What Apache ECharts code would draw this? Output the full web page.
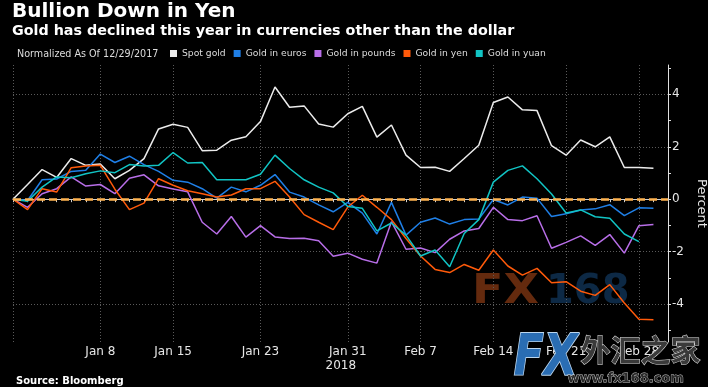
<!DOCTYPE html>
<html>
<head>
<meta charset="utf-8">
<script src="https://cdn.jsdelivr.net/npm/echarts@6/dist/echarts.min.js"></script>
<style>
html,body{margin:0;padding:0;background:#000;}
#chart{width:708px;height:387px;}
</style>
</head>
<body>
<div id="chart"></div>
<script>
// Trading days (weekdays), Dec 29 2017 .. Mar 2 2018
const categories = ["Dec 29","Jan 1","Jan 2","Jan 3","Jan 4","Jan 5","Jan 8","Jan 9","Jan 10","Jan 11","Jan 12",
  "Jan 15","Jan 16","Jan 17","Jan 18","Jan 19","Jan 22","Jan 23","Jan 24","Jan 25","Jan 26",
  "Jan 29","Jan 30","Jan 31","Feb 1","Feb 2","Feb 5","Feb 6","Feb 7","Feb 8","Feb 9",
  "Feb 12","Feb 13","Feb 14","Feb 15","Feb 16","Feb 19","Feb 20","Feb 21","Feb 22","Feb 23",
  "Feb 26","Feb 27","Feb 28","Mar 1","Mar 2"];
const tickLabels = ["Jan 8","Jan 15","Jan 23","Jan 31","Feb 7","Feb 14","Feb 21","Feb 28"];
const yearLabel = "2018";
const yTickValues = [-5,-4,-3,-2,-1,0,1,2,3,4,5];
const yLabelValues = [-4,-2,0,2,4];
const gridValues = [4,2,-2,-4];

const spotGold = [0,0.56,1.13,0.83,1.55,1.29,1.34,0.78,1.1,1.55,2.68,2.86,2.74,1.85,1.87,2.25,2.38,2.96,4.28,3.51,3.56,2.87,2.75,3.26,3.54,2.37,2.83,1.68,1.21,1.22,1.06,1.55,2.06,3.69,3.9,3.41,3.38,2.04,1.68,2.26,2.0,2.38,1.21,1.21,1.18];
const goldEuros = [0,-0.05,0.74,0.77,1.06,1.1,1.72,1.4,1.64,1.32,1.06,0.72,0.65,0.4,0.04,0.46,0.28,0.53,0.94,0.27,0.08,-0.22,-0.48,-0.12,-0.53,-1.33,-0.12,-1.37,-0.88,-0.72,-0.95,-0.78,-0.76,-0.01,-0.22,0.08,0.04,-0.66,-0.56,-0.41,-0.37,-0.21,-0.63,-0.33,-0.35];
const goldPounds = [0,-0.31,0.21,0.4,0.85,0.5,0.56,0.21,0.8,0.93,0.51,0.39,0.28,-0.88,-1.33,-0.66,-1.45,-1.01,-1.44,-1.5,-1.49,-1.59,-2.18,-2.06,-2.29,-2.44,-0.86,-1.91,-1.86,-2.04,-1.53,-1.21,-1.12,-0.31,-0.78,-0.82,-0.63,-1.87,-1.65,-1.4,-1.76,-1.35,-2.06,-1.01,-0.97];
const goldYen = [0,-0.4,0.4,0.27,1.2,1.27,1.29,0.38,-0.4,-0.15,0.78,0.53,0.32,0.21,0.08,0.16,0.4,0.4,0.68,0.08,-0.59,-0.88,-1.16,-0.3,0.15,-0.31,-0.78,-1.5,-2.17,-2.68,-2.8,-2.49,-2.71,-1.94,-2.55,-2.9,-2.64,-3.19,-3.15,-3.51,-3.67,-3.26,-3.96,-4.58,-4.6];
const goldYuan = [0,-0.08,0.46,0.85,0.82,0.97,1.08,1.01,1.32,1.27,1.29,1.78,1.38,1.4,0.74,0.74,0.74,0.95,1.68,1.17,0.74,0.46,0.24,-0.28,-0.35,-1.21,-0.91,-1.37,-2.17,-1.94,-2.58,-1.31,-0.78,0.65,1.1,1.27,0.78,0.2,-0.53,-0.41,-0.67,-0.73,-1.33,-1.62,null];

const seriesNames = ["Spot gold","Gold in euros","Gold in pounds","Gold in yen","Gold in yuan"];
const seriesColors = ["#ececec","#1f7fe6","#b86ee8","#ff5a0a","#11c4c4"];
const seriesData = [spotGold, goldEuros, goldPounds, goldYen, goldYuan];

const FONT = '"DejaVu Sans", "Liberation Sans", sans-serif';
const chart = echarts.init(document.getElementById('chart'), null, {renderer: 'canvas'});

const lineSeries = seriesNames.map((n, k) => ({
  name: n, type: 'line', data: seriesData[k], symbol: 'none', showSymbol: false,
  connectNulls: false, z: 3,
  lineStyle: {color: seriesColors[k], width: 1.5},
  itemStyle: {color: seriesColors[k]}
}));

const option = {
  backgroundColor: '#000',
  animation: false,
  textStyle: {fontFamily: FONT},
  title: [
    {text: 'Bullion Down in Yen', left: 12, top: 2, padding: 0,
     textStyle: {color: '#fff', fontSize: 20, fontWeight: 'bold', fontFamily: FONT}},
    {text: 'Gold has declined this year in currencies other than the dollar', left: 12, top: 24, padding: 0,
     textStyle: {color: '#fff', fontSize: 14.3, fontWeight: 'bold', fontFamily: FONT}},
    {text: 'Normalized As Of 12/29/2017', left: 17, top: 49, padding: 0,
     textStyle: {color: '#ddd', fontSize: 9.6, fontWeight: 'normal', fontFamily: FONT}},
    {text: 'Source: Bloomberg', left: 16, top: 376, padding: 0,
     textStyle: {color: '#fff', fontSize: 10, fontWeight: 'bold', fontFamily: FONT}}
  ],
  legend: {
    data: seriesNames, left: 170, top: 49, padding: 0,
    icon: 'rect', itemWidth: 7, itemHeight: 7, itemGap: 8,
    textStyle: {color: '#ddd', fontSize: 9.2, fontFamily: FONT},
    selectedMode: false
  },
  grid: {left: 13, right: 40, top: 65, bottom: 45, containLabel: false, outerBoundsMode: 'none'},
  xAxis: {
    type: 'category', data: categories, boundaryGap: false,
    axisLine: {show: true, lineStyle: {color: '#cfcfcf', width: 1}},
    axisTick: {show: true, interval: 0, length: 3, lineStyle: {color: '#cfcfcf'}},
    axisLabel: {
      color: '#e6e6e6', fontSize: 12, margin: 3, fontFamily: FONT,
      interval: (i, v) => tickLabels.indexOf(v) >= 0,
      formatter: (v) => v === 'Jan 31' ? '{a|' + v + '}\n{b|' + yearLabel + '}' : '{a|' + v + '}',
      rich: {a: {color: '#e6e6e6', fontSize: 12, fontFamily: FONT, lineHeight: 14},
             b: {color: '#e6e6e6', fontSize: 12, fontFamily: FONT, lineHeight: 14, padding: [0, 14, 0, 0]}}
    },
    splitLine: {show: true, interval: (i, v) => i === 0 || tickLabels.indexOf(v) >= 0,
      lineStyle: {color: '#5a5a5a', type: [1, 2], width: 1}}
  },
  yAxis: {
    type: 'value', position: 'right', min: -5.45, max: 5.12,
    axisLine: {show: true, lineStyle: {color: '#e0e0e0', width: 1}},
    axisTick: {show: true, customValues: yTickValues, length: 3, lineStyle: {color: '#e0e0e0'}},
    axisLabel: {customValues: yLabelValues, color: '#e6e6e6', fontSize: 12, margin: 4, fontFamily: FONT},
    splitLine: {show: false},
    name: 'Percent', nameLocation: 'middle', nameRotate: -90, nameGap: 21,
    nameTextStyle: {color: '#e6e6e6', fontSize: 13, fontFamily: FONT}
  },
  series: [
    {name: '_grid', type: 'line', data: [], silent: true, z: 1,
     markLine: {silent: true, symbol: ['none', 'none'], label: {show: false}, z: 1,
       lineStyle: {color: '#5a5a5a', type: [1, 2], width: 1},
       data: gridValues.map(v => ({yAxis: v}))}}
  ].concat(lineSeries).concat([
    {name: '_zero', type: 'line', data: [], silent: true, z: 10,
     markLine: {silent: true, symbol: ['none', 'none'], label: {show: false}, z: 10,
       lineStyle: {color: '#ffb451', type: [8, 4], width: 2.5},
       data: [{yAxis: 0}]}}
  ]),
  graphic: [
    {type: 'group', left: 472, top: 273, z: 50, children: [
      {type: 'text', x: 0, y: 0, scaleX: 1.15, style: {text: 'FX', font: 'bold 40px ' + FONT, fill: 'rgba(125,52,18,0.8)'}},
      {type: 'text', x: 74, y: 0, style: {text: '168', font: 'bold 40px ' + FONT, fill: 'rgba(18,55,92,0.75)'}}
    ]},
    {type: 'text', left: 513, top: 331, z: 60, scaleY: 1.3,
     style: {text: 'FX', font: 'bold italic 44px ' + FONT, fill: '#2a6db3', stroke: '#bcd6ee', lineWidth: 1.5}},
    {type: 'text', left: 580, top: 334, z: 60,
     style: {text: '外汇之家', font: 'bold 30px "Noto Sans CJK SC", sans-serif', fill: '#3a3a3a', stroke: '#e0e0e0', lineWidth: 1}},
    {type: 'text', left: 567, top: 372, z: 60,
     style: {text: 'www.fx168.com', font: 'bold 13px ' + FONT, fill: '#2a2a2a', stroke: '#d0d0d0', lineWidth: 0.8}}
  ]
};
chart.setOption(option);
</script>
</body>
</html>
